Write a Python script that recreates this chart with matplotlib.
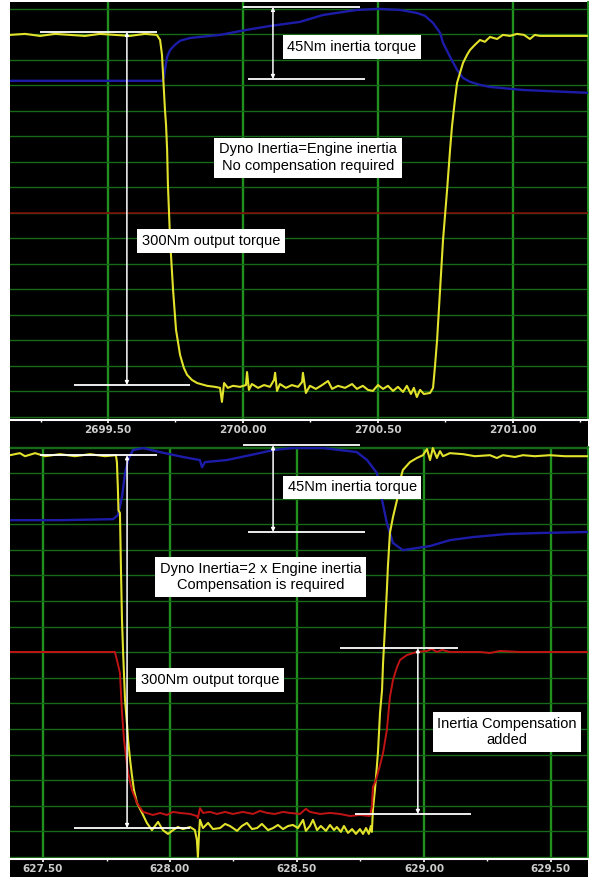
import matplotlib.pyplot as plt
from matplotlib.patches import Rectangle
from matplotlib.ticker import MultipleLocator, FormatStrFormatter

# ---- run 1: dyno inertia equal to engine inertia (time in s, traces in divisions)
top_torque_t = [2699.137, 2699.193, 2699.248, 2699.304, 2699.359, 2699.415, 2699.470, 2699.526,
                2699.581, 2699.637, 2699.681, 2699.693, 2699.700, 2699.704, 2699.711, 2699.715,
                2699.719, 2699.722, 2699.730, 2699.741, 2699.752, 2699.767, 2699.781, 2699.793,
                2699.811, 2699.830, 2699.867, 2699.896, 2699.915, 2699.922, 2699.930, 2699.944,
                2699.963, 2699.989, 2700.011, 2700.015, 2700.022, 2700.033, 2700.056, 2700.078,
                2700.100, 2700.115, 2700.119, 2700.126, 2700.137, 2700.159, 2700.181, 2700.204,
                2700.219, 2700.222, 2700.233, 2700.248, 2700.270, 2700.293, 2700.315, 2700.330,
                2700.352, 2700.378, 2700.404, 2700.422, 2700.444, 2700.463, 2700.481, 2700.500,
                2700.519, 2700.537, 2700.556, 2700.574, 2700.593, 2700.607, 2700.622, 2700.633,
                2700.644, 2700.656, 2700.670, 2700.693, 2700.704, 2700.711, 2700.719, 2700.730,
                2700.741, 2700.756, 2700.767, 2700.774, 2700.785, 2700.793, 2700.804, 2700.815,
                2700.830, 2700.841, 2700.859, 2700.878, 2700.896, 2700.915, 2700.941, 2700.963,
                2700.989, 2701.015, 2701.041, 2701.063, 2701.081, 2701.100, 2701.274]
top_torque_v = [14.98, 15.02, 14.94, 15.02, 14.98, 14.94, 15.02, 14.98,
                14.94, 15.02, 14.98, 14.78, 14.20, 13.41, 12.04, 11.45,
                10.47, 9.10, 6.94, 4.98, 3.41, 2.43, 1.92, 1.65,
                1.45, 1.33, 1.22, 1.18, 1.14, 0.59, 1.33, 1.14,
                1.22, 1.18, 1.25, 1.76, 1.06, 1.29, 1.14, 1.25,
                1.18, 1.45, 1.73, 1.02, 1.29, 1.14, 1.25, 1.18,
                1.37, 1.73, 0.94, 1.22, 1.10, 1.25, 1.41, 1.10,
                1.22, 1.14, 1.29, 1.10, 1.22, 1.06, 1.02, 1.25,
                1.10, 1.22, 1.02, 1.18, 0.98, 1.22, 0.90, 1.14,
                0.78, 1.06, 0.90, 0.94, 1.14, 1.96, 3.02, 4.98,
                6.94, 8.90, 10.47, 11.37, 12.43, 13.10, 13.49, 13.88,
                14.20, 14.39, 14.59, 14.78, 14.71, 14.90, 14.82, 14.98,
                14.94, 15.02, 14.98, 14.82, 14.98, 14.94, 14.94]

top_speed_t = [2699.137, 2699.470, 2699.700, 2699.707, 2699.711, 2699.719, 2699.730, 2699.748,
               2699.767, 2699.804, 2699.841, 2699.915, 2700.015, 2700.100, 2700.211, 2700.296,
               2700.422, 2700.500, 2700.581, 2700.644, 2700.674, 2700.704, 2700.730, 2700.741,
               2700.767, 2700.793, 2700.815, 2700.841, 2700.878, 2700.915, 2701.037, 2701.274]
top_speed_v = [13.18, 13.18, 13.18, 13.29, 13.61, 14.12, 14.39, 14.59,
               14.75, 14.86, 14.90, 14.98, 15.18, 15.33, 15.49, 15.76,
               15.96, 16.00, 15.96, 15.84, 15.73, 15.45, 15.06, 14.67,
               14.12, 13.61, 13.29, 13.14, 13.02, 12.94, 12.82, 12.71]

top_comp_t = [2699.137, 2701.278]
top_comp_v = [8.0, 8.0]

# ---- run 2: dyno inertia twice the engine inertia
bot_torque_t = [627.370, 627.409, 627.429, 627.469, 627.508, 627.567, 627.626, 627.685,
                627.744, 627.787, 627.791, 627.795, 627.797, 627.803, 627.807, 627.811,
                627.815, 627.823, 627.831, 627.835, 627.843, 627.850, 627.858, 627.870,
                627.890, 627.909, 627.929, 627.953, 627.972, 627.992, 628.012, 628.031,
                628.051, 628.079, 628.098, 628.106, 628.110, 628.114, 628.118, 628.130,
                628.150, 628.169, 628.197, 628.217, 628.236, 628.264, 628.283, 628.303,
                628.323, 628.343, 628.362, 628.386, 628.406, 628.425, 628.445, 628.465,
                628.484, 628.504, 628.524, 628.535, 628.551, 628.563, 628.579, 628.594,
                628.614, 628.630, 628.646, 628.657, 628.673, 628.685, 628.701, 628.717,
                628.732, 628.748, 628.760, 628.772, 628.783, 628.791, 628.795, 628.799,
                628.807, 628.815, 628.819, 628.827, 628.835, 628.839, 628.846, 628.854,
                628.858, 628.866, 628.878, 628.894, 628.906, 628.917, 628.945, 628.972,
                628.996, 629.012, 629.024, 629.035, 629.051, 629.063, 629.075, 629.102,
                629.154, 629.201, 629.260, 629.287, 629.311, 629.358, 629.390, 629.437,
                629.496, 629.555, 629.642]
bot_torque_v = [15.70, 15.78, 15.66, 15.78, 15.66, 15.74, 15.66, 15.74,
                15.66, 15.70, 15.43, 14.34, 13.55, 13.44, 11.21, 9.26,
                8.09, 6.13, 5.16, 4.57, 3.79, 3.20, 2.62, 2.11,
                1.72, 1.33, 1.05, 1.37, 1.05, 0.90, 1.05, 1.17,
                1.09, 1.17, 1.05, 0.66, 0.00, 0.86, 1.45, 1.13,
                1.33, 1.09, 1.13, 1.29, 1.21, 1.02, 1.21, 1.33,
                1.09, 1.13, 1.29, 1.05, 1.13, 1.25, 1.09, 1.21,
                1.25, 1.13, 1.45, 1.02, 1.21, 1.45, 1.05, 1.21,
                1.02, 1.25, 1.05, 1.17, 0.98, 1.21, 0.94, 1.09,
                0.90, 1.09, 0.90, 1.13, 0.90, 1.21, 0.98, 1.84,
                2.62, 3.59, 4.10, 5.63, 6.52, 7.58, 8.87, 10.43,
                11.33, 12.66, 13.28, 13.95, 14.73, 15.12, 15.43, 15.59,
                15.70, 15.94, 15.51, 15.98, 15.59, 15.86, 15.66, 15.78,
                15.74, 15.66, 15.70, 15.59, 15.70, 15.63, 15.70, 15.66,
                15.70, 15.66, 15.66]

bot_speed_t = [627.370, 627.567, 627.776, 627.795, 627.811, 627.823, 627.835, 627.854,
               627.894, 627.961, 628.051, 628.118, 628.126, 628.138, 628.224, 628.315,
               628.406, 628.484, 628.602, 628.736, 628.776, 628.815, 628.835, 628.854,
               628.878, 628.917, 628.972, 629.024, 629.102, 629.193, 629.327, 629.457,
               629.642]
bot_speed_v = [13.16, 13.16, 13.20, 13.36, 14.06, 15.00, 15.51, 15.90,
               15.98, 15.82, 15.63, 15.51, 15.23, 15.43, 15.51, 15.70,
               15.90, 15.98, 15.98, 15.82, 15.51, 15.00, 13.95, 13.05,
               12.27, 11.99, 12.07, 12.15, 12.38, 12.50, 12.62, 12.66,
               12.70]

bot_comp_t = [627.370, 627.567, 627.724, 627.783, 627.791, 627.803, 627.811, 627.819,
              627.827, 627.835, 627.850, 627.870, 627.894, 627.933, 627.961, 627.988,
              628.012, 628.039, 628.079, 628.106, 628.110, 628.118, 628.130, 628.157,
              628.185, 628.217, 628.248, 628.287, 628.327, 628.354, 628.382, 628.413,
              628.445, 628.472, 628.512, 628.535, 628.551, 628.591, 628.630, 628.669,
              628.709, 628.748, 628.787, 628.795, 628.799, 628.811, 628.827, 628.839,
              628.854, 628.866, 628.878, 628.894, 628.906, 628.933, 628.972, 629.012,
              629.031, 629.051, 629.071, 629.102, 629.220, 629.260, 629.299, 629.378,
              629.642]
bot_comp_v = [8.01, 8.01, 8.01, 8.01, 7.70, 7.19, 5.63, 4.57,
              3.91, 3.28, 2.62, 2.11, 1.76, 1.64, 1.72, 1.64,
              1.76, 1.72, 1.68, 1.60, 1.52, 1.91, 1.72, 1.76,
              1.68, 1.76, 1.68, 1.76, 1.68, 1.80, 1.72, 1.68,
              1.76, 1.72, 1.68, 1.88, 1.76, 1.68, 1.72, 1.68,
              1.60, 1.64, 1.60, 1.95, 2.73, 3.01, 3.59, 4.06,
              4.96, 6.25, 6.91, 7.42, 7.70, 7.89, 8.01, 8.05,
              8.13, 8.01, 8.09, 8.01, 8.01, 7.97, 8.05, 8.01,
              8.01]

top_ticks = [2699.5, 2700.0, 2700.5, 2701.0]
bot_ticks = [627.5, 628.0, 628.5, 629.0, 629.5]

YELLOW = '#e2e22c'
BLUE = '#1c1ca8'
RED = '#c01414'
DARK_RED = '#8a0a0a'
GRID_V = '#22901f'
GRID_H = '#176a17'
LABEL_FONT = 'Liberation Sans'

W, H = 592, 877
fig = plt.figure(figsize=(W / 100, H / 100), dpi=100, facecolor='white')
# black instrument background behind both panels and the time strips
fig.patches.append(Rectangle((10 / W, 0), 578 / W, 875 / H, transform=fig.transFigure,
                             facecolor='black', edgecolor='none', zorder=-10))

ax1 = fig.add_axes([10 / W, (H - 420) / H, 578 / W, 418 / H])
ax2 = fig.add_axes([10 / W, (H - 859) / H, 578 / W, 412 / H])


def style_panel(ax, xlim, ylim, ticks, top_edge):
    ax.set_facecolor('black')
    ax.set_xlim(*xlim)
    ax.set_ylim(*ylim)
    ax.set_xticks(ticks)
    ax.xaxis.set_minor_locator(MultipleLocator(0.25))
    ax.xaxis.set_major_formatter(FormatStrFormatter('%.2f'))
    ax.set_yticks(range(17))
    ax.tick_params(axis='y', length=0, labelleft=False)
    ax.tick_params(axis='x', which='major', direction='out', length=2.5, width=1.2,
                   color='white', pad=1, labelsize=7.5, labelcolor='#cdcdcd')
    ax.tick_params(axis='x', which='minor', direction='out', length=1.5, width=1.0, color='white')
    for lab in ax.get_xticklabels():
        lab.set_fontweight('bold')
    ax.grid(axis='x', which='major', color=GRID_V, lw=1.7)
    ax.grid(axis='y', color=GRID_H, lw=1.0)
    ax.spines['left'].set_visible(False)
    ax.spines['right'].set_color(GRID_V)
    ax.spines['right'].set_linewidth(1.4)
    ax.spines['bottom'].set_color('white')
    ax.spines['bottom'].set_linewidth(1.5)
    if top_edge:
        ax.spines['top'].set_color(GRID_H)
        ax.spines['top'].set_linewidth(1.0)
    else:
        ax.spines['top'].set_visible(False)


def span(ax, x_left, x_right, y):
    ax.plot([x_left, x_right], [y, y], color='white', lw=1.3, zorder=6, clip_on=False,
            solid_capstyle='butt')


def arrow(ax, x, y_top, y_bottom):
    ax.annotate('', xy=(x, y_bottom), xytext=(x, y_top), zorder=6, annotation_clip=False,
                arrowprops=dict(arrowstyle='<|-|>', color='white', lw=1.1,
                                mutation_scale=5, shrinkA=0, shrinkB=0))


def label(ax, x, y, text):
    ax.text(x, y, text, ha='center', va='center', fontsize=10.5, family=LABEL_FONT,
            color='black', linespacing=1.25, zorder=7,
            bbox=dict(boxstyle='square,pad=0.32', facecolor='white', edgecolor='none'))


style_panel(ax1, (2699.137, 2701.278), (-0.12, 16.27), top_ticks, top_edge=False)
style_panel(ax2, (627.370, 629.646), (-0.08, 16.02), bot_ticks, top_edge=True)

# traces
ax1.plot(top_comp_t, top_comp_v, color=DARK_RED, lw=1.1, zorder=3)
ax1.plot(top_speed_t, top_speed_v, color=BLUE, lw=1.7, zorder=3)
ax1.plot(top_torque_t, top_torque_v, color=YELLOW, lw=1.5, zorder=4)

ax2.plot(bot_speed_t, bot_speed_v, color=BLUE, lw=1.7, zorder=3)
ax2.plot(bot_torque_t, bot_torque_v, color=YELLOW, lw=1.5, zorder=4)
ax2.plot(bot_comp_t, bot_comp_v, color=RED, lw=1.4, zorder=4)

# run 1 annotations
span(ax1, 2699.248, 2699.681, 15.10)
span(ax1, 2699.374, 2699.804, 1.25)
arrow(ax1, 2699.570, 15.10, 1.25)
label(ax1, 2699.881, 6.90, '300Nm output torque')

span(ax1, 2700.000, 2700.433, 16.08)
span(ax1, 2700.019, 2700.452, 13.25)
arrow(ax1, 2700.111, 16.08, 13.25)
label(ax1, 2700.404, 14.51, '45Nm inertia torque')

label(ax1, 2700.241, 10.16, 'Dyno Inertia=Engine inertia\nNo compensation required')

# run 2 annotations
span(ax2, 627.488, 627.949, 15.70)
span(ax2, 627.622, 628.079, 1.13)
arrow(ax2, 627.831, 15.70, 1.13)
label(ax2, 628.157, 6.91, '300Nm output torque')

span(ax2, 628.287, 628.748, 16.09)
span(ax2, 628.307, 628.768, 12.70)
arrow(ax2, 628.406, 16.09, 12.70)
label(ax2, 628.717, 14.45, '45Nm inertia torque')

label(ax2, 628.358, 10.94, 'Dyno Inertia=2 x Engine inertia\nCompensation is required')

span(ax2, 628.669, 629.134, 8.16)
span(ax2, 628.728, 629.185, 1.68)
arrow(ax2, 628.976, 8.16, 1.68)
label(ax2, 629.327, 4.88, 'Inertia Compensation\nadded')

fig.savefig('out.png', dpi=100, facecolor='white')
